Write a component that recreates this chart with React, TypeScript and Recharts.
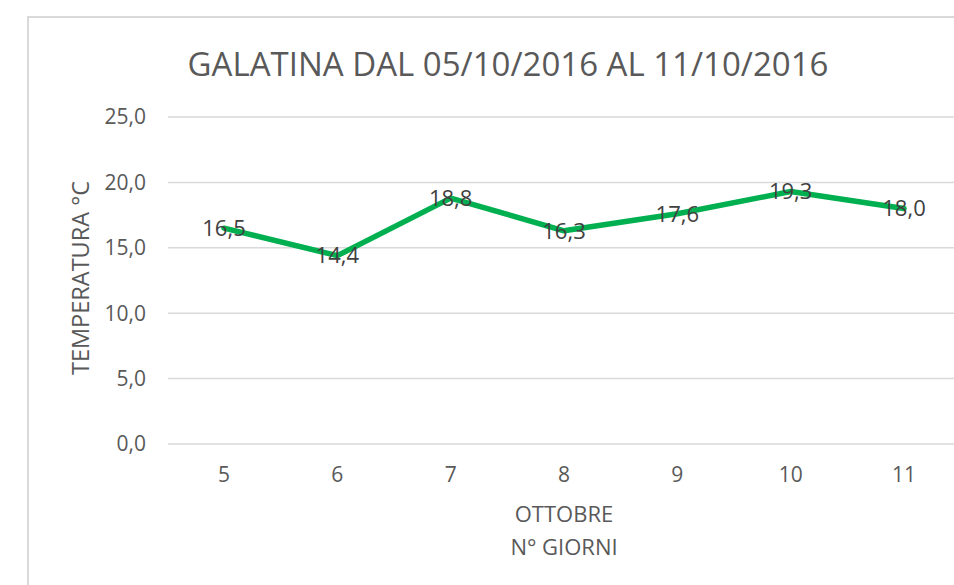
import { LineChart, Line, XAxis, YAxis, CartesianGrid, LabelList, Label } from "recharts";

const days = ["5", "6", "7", "8", "9", "10", "11"];
const temperatures = [16.5, 14.4, 18.8, 16.3, 17.6, 19.3, 18.0];
const yTicks = [0, 5, 10, 15, 20, 25];

const data = days.map((day, i) => ({ day, temp: temperatures[i] }));

const FONT = "'Open Sans', sans-serif";
const TEXT = "#595959";
const comma = (v: number) => Number(v).toFixed(1).replace(".", ",");

const XTitle = ({ viewBox }: any) => {
  const cx = viewBox.x + viewBox.width / 2;
  return (
    <text x={cx} textAnchor="middle" fill={TEXT} fontSize={22} fontFamily={FONT}>
      <tspan x={cx} y={522}>OTTOBRE</tspan>
      <tspan x={cx} y={555}>N° GIORNI</tspan>
    </text>
  );
};

const YTitle = () => (
  <text
    x={80}
    y={278}
    transform="rotate(-90 80 278)"
    textAnchor="middle"
    dominantBaseline="central"
    fill={TEXT}
    fontSize={23.5}
    fontFamily={FONT}
  >
    TEMPERATURA °C
  </text>
);

const App = () => {
  return (
    <div
      style={{
        position: "absolute",
        left: 0,
        top: 0,
        width: 954,
        height: 585,
        overflow: "hidden",
        background: "#fff",
        fontFamily: FONT,
      }}
    >
      <div
        style={{
          position: "absolute",
          left: 27,
          top: 16,
          width: 1000,
          height: 700,
          border: "2px solid #D9D9D9",
        }}
      />
      <div
        style={{
          position: "absolute",
          left: 0,
          top: 43,
          width: 1016,
          textAlign: "center",
          fontSize: 33,
          color: TEXT,
          lineHeight: "42px",
        }}
      >
        GALATINA DAL 05/10/2016 AL 11/10/2016
      </div>
      <div style={{ position: "absolute", left: 0, top: 0 }}>
        <LineChart
          width={1010}
          height={585}
          data={data}
          margin={{ top: 117, right: 50, bottom: 111, left: 108 }}
        >
          <CartesianGrid vertical={false} stroke="#D9D9D9" strokeWidth={1.5} />
          <XAxis
            dataKey="day"
            axisLine={false}
            tickLine={false}
            tickSize={0}
            tickMargin={23}
            height={30}
            padding={{ left: 56, right: 56 }}
            tick={{ fill: TEXT, fontSize: 21, fontFamily: FONT }}
          >
            <Label content={<XTitle />} />
          </XAxis>
          <YAxis
            domain={[0, 25]}
            ticks={yTicks}
            width={60}
            axisLine={false}
            tickLine={false}
            tickSize={0}
            tickMargin={22}
            tickFormatter={comma}
            tick={{ fill: TEXT, fontSize: 21, fontFamily: FONT }}
          >
            <Label content={<YTitle />} />
          </YAxis>
          <Line
            type="linear"
            dataKey="temp"
            stroke="#00B050"
            strokeWidth={5.5}
            strokeLinecap="round"
            strokeLinejoin="round"
            dot={false}
            isAnimationActive={false}
          >
            <LabelList
              dataKey="temp"
              position="center"
              formatter={(v: any) => comma(v)}
              fill="#404040"
              fontSize={22}
              fontFamily={FONT}
            />
          </Line>
        </LineChart>
      </div>
    </div>
  );
};

export default App;
